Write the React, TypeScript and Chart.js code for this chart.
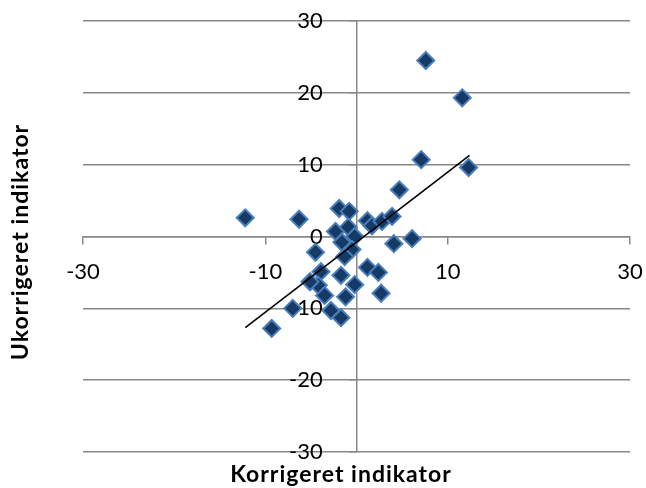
import { useEffect, useRef } from "react";
import { Chart, registerables } from "chart.js";

Chart.register(...registerables);

// Data
const xValues = [
  -12.2, -6.3, -1.9, -0.8, 7.6, 11.6, 7.1, 12.3, 4.7, 1.2, 1.7, 2.8, 3.9,
  -2.3, -0.9, -1.6, -0.2, -0.5, -1.3, -4.5, 4.1, 6.1, 1.2, 2.4, -1.7, -3.9,
  -4.2, -5.1, -3.5, -0.2, -1.2, 2.7, -7.0, -2.8, -1.7, -9.3,
];
const yValues = [
  2.6, 2.4, 3.9, 3.5, 24.5, 19.3, 10.7, 9.6, 6.5, 2.2, 1.5, 2.1, 2.8,
  0.7, 1.3, -0.8, 0.0, -1.8, -2.8, -2.2, -1.0, -0.3, -4.3, -5.0, -5.4, -4.9,
  -6.8, -6.3, -8.2, -6.7, -8.4, -7.9, -10.0, -10.3, -11.3, -12.8,
];
const trendX = [-12.2, 12.4];
const trendY = [-12.7, 11.3];
const xTicks = [-30, -10, 10, 30];
const yTicks = [-30, -20, -10, 0, 10, 20, 30];
const xTitle = "Korrigeret indikator";
const yTitle = "Ukorrigeret indikator";

const GRID = "#888888";
const FONT = "Lato, 'Open Sans', sans-serif";

const axisTitles = {
  id: "axisTitles",
  afterDraw(chart: any) {
    const ctx = chart.ctx as any;
    ctx.save();
    ctx.font = `bold 23px ${FONT}`;
    ctx.fillStyle = "#000";
    ctx.textAlign = "center";
    ctx.textBaseline = "middle";
    try {
      ctx.letterSpacing = "1px";
    } catch (e) {}
    ctx.fillText(xTitle, 341, 475);
    ctx.translate(21, 242);
    ctx.rotate(-Math.PI / 2);
    ctx.fillText(yTitle, 0, 0);
    ctx.restore();
  },
};

const zeroFit = (s: any, horizontal: boolean) => {
  if (horizontal) s.height = 0;
  else s.width = 0;
  s.paddingLeft = 0;
  s.paddingRight = 0;
  s.paddingTop = 0;
  s.paddingBottom = 0;
};

export default function App() {
  const ref = useRef<HTMLCanvasElement | null>(null);

  useEffect(() => {
    if (!ref.current) return;
    const chart = new Chart(ref.current, {
      type: "scatter",
      data: {
        datasets: [
          {
            type: "line",
            data: trendX.map((x, i) => ({ x, y: trendY[i] })),
            borderColor: "#000",
            borderWidth: 1.6,
            pointRadius: 0,
            fill: false,
            order: 0,
          } as any,
          {
            type: "scatter",
            data: xValues.map((x, i) => ({ x, y: yValues[i] })),
            pointStyle: "rectRot",
            pointRadius: 8.5,
            backgroundColor: "#163A66",
            borderColor: "#4A7EBB",
            borderWidth: 2,
            order: 1,
          } as any,
        ],
      },
      options: {
        responsive: false,
        animation: false,
        layout: { padding: { left: 83, right: 16, top: 21, bottom: 36 } },
        plugins: { legend: { display: false }, tooltip: { enabled: false } },
        scales: {
          x: {
            type: "linear",
            position: { y: 0 } as any,
            min: -30,
            max: 30,
            afterBuildTicks: (s: any) => {
              s.ticks = xTicks.map((value) => ({ value }));
            },
            afterFit: (s: any) => zeroFit(s, true),
            grid: {
              drawOnChartArea: false,
              drawTicks: true,
              tickLength: 7,
              color: GRID,
              lineWidth: 1.5,
            },
            border: { display: true, color: GRID, width: 1.5 },
            ticks: {
              font: { family: FONT, size: 22 },
              color: "#000",
              padding: 15,
              maxRotation: 0,
              autoSkip: false,
            },
          },
          y: {
            type: "linear",
            position: { x: 0 } as any,
            min: -30,
            max: 30,
            afterBuildTicks: (s: any) => {
              s.ticks = yTicks.map((value) => ({ value }));
            },
            afterFit: (s: any) => zeroFit(s, false),
            grid: {
              drawOnChartArea: true,
              drawTicks: true,
              tickLength: 7,
              color: GRID,
              lineWidth: 1.5,
            },
            border: { display: true, color: GRID, width: 1.5 },
            ticks: {
              font: { family: FONT, size: 22 },
              color: "#000",
              autoSkip: false,
              // trailing spaces move the right-aligned labels off the axis line
              callback: (v: any) => `${v}      `,
            },
          },
        },
      },
      plugins: [axisTitles],
    });
    return () => chart.destroy();
  }, []);

  return (
    <div style={{ position: "absolute", left: 0, top: 0, width: 646, height: 488, background: "#fff" }}>
      <canvas ref={ref} width={646} height={488} />
    </div>
  );
}
